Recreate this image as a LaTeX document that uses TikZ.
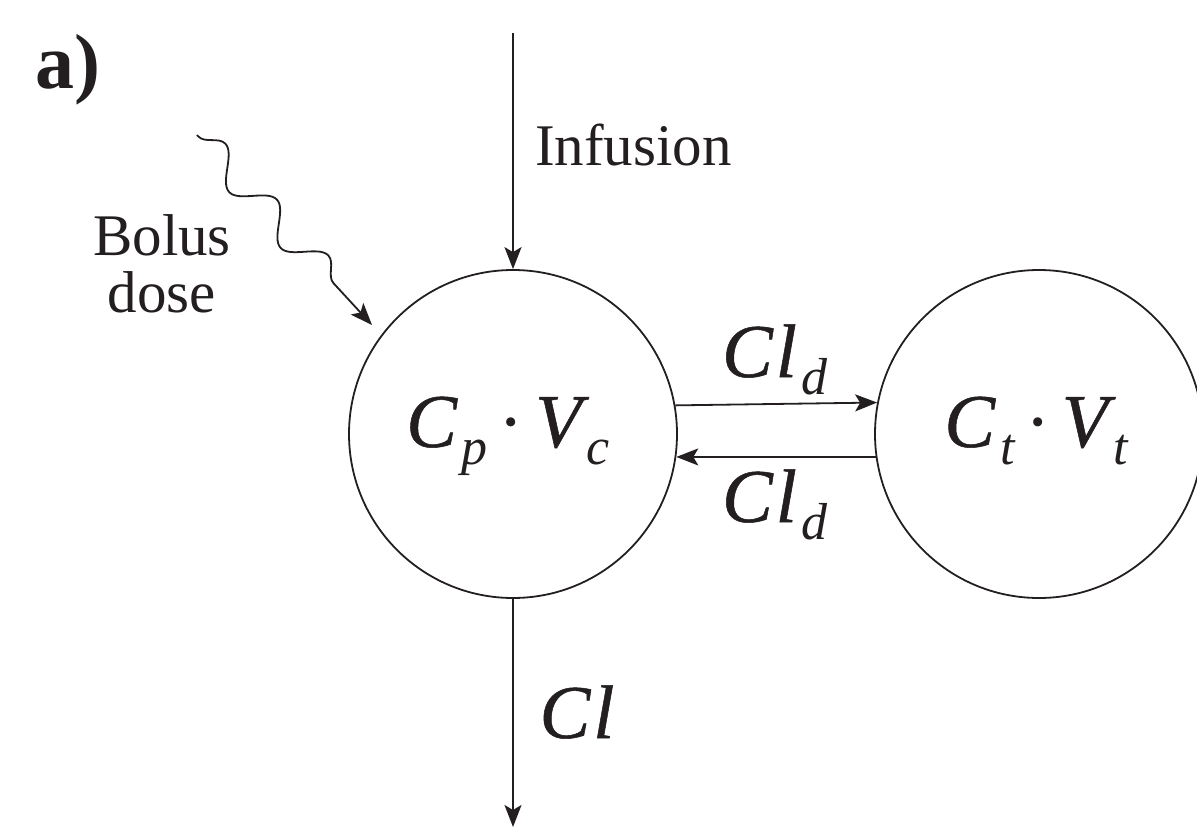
\documentclass[tikz,border=0pt]{standalone}
\usepackage{fontspec}
\setmainfont{Liberation Serif}
\newfontfamily\mvfont[FakeBold=0.7]{Liberation Serif}
\usetikzlibrary{arrows.meta,decorations.pathmorphing,calc}
\definecolor{ink}{HTML}{231F20}
\newcommand{\mv}[1]{{\mvfont\itshape #1}}
\newcommand{\msb}[1]{\hspace{5pt}\raisebox{-17pt}{\fontsize{52}{52}\selectfont\itshape #1}}
\begin{document}
\begin{tikzpicture}[x=1pt,y=-1pt,
  every node/.style={text=ink,inner sep=0pt},
  line/.style={draw=ink,line width=1.8pt},
  arr/.style={line,-{Stealth[length=22pt,width=17pt,inset=5pt]}},
  comp/.style={circle,draw=ink,line width=1.8pt,minimum size=328pt,inner sep=0pt},
  lbl/.style={font=\fontsize{59}{57}\selectfont},
  mlbl/.style={font=\fontsize{76}{80}\selectfont,anchor=base}]
\useasboundingbox (0,0) rectangle (1197,827);
\node[comp] (p) at (513,434) {};
\node[comp] (t) at (1039,434) {};
\node[mlbl] (pl) at (508,447) {\mv{C}\msb{p}\hspace{11pt}·\hspace{11pt}\mv{V}\msb{c}};
\node[mlbl] (tl) at (1036,447) {\mv{C}\msb{t}\hspace{11pt}·\hspace{11pt}\mv{V}\msb{t}};
\coordinate (intop) at (513,33);
\coordinate (clbot) at (513,827);
\draw[arr] (intop) -- (p.north);
\draw[arr] (p.south) -- (clbot);
\draw[arr] (p.10.9) -- (t.169.1);
\draw[arr] (t.188.8) -- (p.-8.8);
\node[lbl,anchor=base west] (inf) at (535,165) {Infusion};
\node[lbl,align=center,anchor=base] (bol) at (162,312) {Bolus\\dose};
\node[mlbl] (cl1) at (775,377) {\mv{C}\hspace{3pt}\mv{l}\msb{d}};
\node[mlbl] (cl2) at (775,522) {\mv{C}\hspace{3pt}\mv{l}\msb{d}};
\node[mlbl] (cl) at (577,738) {\mv{C}\hspace{3pt}\mv{l}};
\node[font=\fontsize{78}{80}\selectfont\bfseries,anchor=base] (lab) at (68,88) {a)};
\coordinate (bs) at (197,135);
\coordinate (be) at (372,325);
\draw[arr,decorate,decoration={snake,segment length=76pt,amplitude=15pt,pre length=2pt,post length=22pt}] (bs) -- (be);
\end{tikzpicture}
\end{document}
